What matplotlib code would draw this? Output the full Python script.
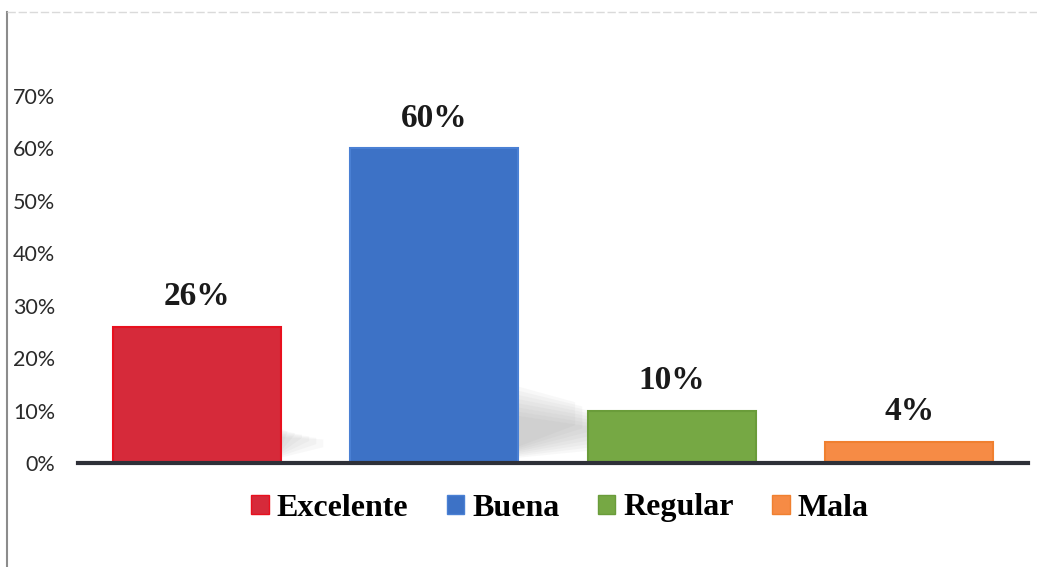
import matplotlib.pyplot as plt
from matplotlib.patches import Rectangle, Polygon
from matplotlib.lines import Line2D
from matplotlib.ticker import PercentFormatter

# Survey answers and their shares
categories = ['Excelente', 'Buena', 'Regular', 'Mala']
values = [26, 60, 10, 4]
colors = ['#d62a3a', '#3d72c6', '#76a844', '#f68b45']
edges = ['#e8101e', '#4a80d4', '#6a9c3a', '#f08030']

fig = plt.figure(figsize=(10.37, 5.67), dpi=100)
ax = fig.add_axes([78 / 1037, 1 - 463 / 567, (1028 - 78) / 1037, (463 - 96) / 567])

x = range(len(categories))
ax.bar(x, values, width=0.707, color=colors, edgecolor=edges, linewidth=1.5, zorder=3)

# soft grey shadows at the foot of the tall bars
for i, v in enumerate(values):
    if v < 20:
        continue
    reach = 0.45 if v > 40 else 0.18
    for k in range(8):
        top = 6 + k * 0.8 if v > 40 else 4.5 + k * 0.3
        left_top = 9 + k * 0.8 if v > 40 else 5 + k * 0.3
        ax.add_patch(Polygon([(i + 0.353, 1 + k * 0.3), (i + 0.353 + reach - k * 0.03, 3 + k * 0.6),
                              (i + 0.353 + reach - k * 0.03, top), (i + 0.353, left_top)],
                             closed=True, facecolor='#808080', alpha=0.05, edgecolor='none', zorder=2))

for i, v in enumerate(values):
    ax.text(i, v + 2.8, f'{v}%', ha='center', va='bottom', fontsize=24,
            fontweight='bold', family='Liberation Serif', color='#1a1a1a')

ax.set_xlim(-0.5, len(categories) - 0.5)
ax.set_ylim(0, 70)
ax.set_yticks(range(0, 71, 10))
ax.yaxis.set_major_formatter(PercentFormatter(decimals=0))
ax.tick_params(axis='y', length=0, pad=16.5, labelsize=15.5, labelcolor='#2a2a2a')
for lab in ax.get_yticklabels():
    lab.set_family('Lato')
ax.set_xticks([])
for s in ['top', 'right', 'left']:
    ax.spines[s].set_visible(False)
ax.spines['bottom'].set_linewidth(3)
ax.spines['bottom'].set_color('#2e3038')
ax.spines['bottom'].set_zorder(4)

# outer frame lines
fig.add_artist(Line2D([7 / 1037, 7 / 1037], [0, 1 - 12 / 567], color='#8c8c8c', lw=1.5))
fig.add_artist(Line2D([7 / 1037, 1], [1 - 12 / 567, 1 - 12 / 567], color='#dadada', lw=1, ls=(0, (6, 2))))

handles = [Rectangle((0, 0), 1, 1, facecolor=c, edgecolor=e) for c, e in zip(colors, edges)]
fig.legend(handles, categories, loc='center', bbox_to_anchor=(560 / 1037, 1 - 508 / 567),
           ncol=4, frameon=False, handlelength=0.55, handleheight=0.55, handletextpad=0.25,
           columnspacing=1.2, prop={'family': 'Liberation Serif', 'weight': 'bold', 'size': 23})

fig.savefig('out.png', dpi=100)
